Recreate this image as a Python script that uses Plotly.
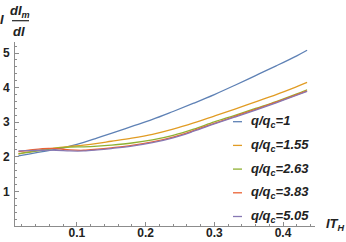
import plotly.graph_objects as go

# ---- data ----
x_vals = [0.015, 0.03, 0.05, 0.07, 0.09, 0.11, 0.13, 0.15, 0.18, 0.21, 0.24,
          0.27, 0.30, 0.33, 0.36, 0.39, 0.42, 0.435]
q_ratios = ["1", "1.55", "2.63", "3.83", "5.05"]
y_q1 = [2.03, 2.08, 2.15, 2.22, 2.31, 2.42, 2.55, 2.68, 2.88, 3.08, 3.31,
        3.55, 3.80, 4.07, 4.35, 4.63, 4.92, 5.08]
y_q155 = [2.08, 2.14, 2.21, 2.26, 2.30, 2.34, 2.39, 2.45, 2.54, 2.65, 2.80,
          2.98, 3.18, 3.38, 3.59, 3.80, 4.03, 4.15]
y_q263 = [2.09, 2.13, 2.19, 2.25, 2.28, 2.29, 2.31, 2.34, 2.40, 2.49, 2.62,
          2.80, 3.01, 3.20, 3.40, 3.60, 3.82, 3.94]
y_q383 = [2.15, 2.19, 2.24, 2.24, 2.20, 2.19, 2.22, 2.26, 2.33, 2.43, 2.57,
          2.76, 2.97, 3.17, 3.37, 3.58, 3.80, 3.91]
y_q505 = [2.17, 2.18, 2.19, 2.19, 2.17, 2.17, 2.20, 2.24, 2.31, 2.41, 2.55,
          2.74, 2.95, 3.15, 3.35, 3.56, 3.78, 3.89]
series = [y_q1, y_q155, y_q263, y_q383, y_q505]
colors = ["#5E81B5", "#E19C24", "#8FB032", "#EB6235", "#8778B3"]

x_ticks = [0.1, 0.2, 0.3, 0.4]
y_ticks = [1, 2, 3, 4, 5]

W, H = 346, 242
ml, mr, mt, mb = 15, 31, 42, 16

fig = go.Figure()
for ys, c, q in zip(series, colors, q_ratios):
    fig.add_trace(go.Scatter(x=x_vals, y=ys, mode="lines",
                             line=dict(color=c, width=1.3, shape="spline"),
                             name="q/q_c=" + q, showlegend=False))

axis_col = "#8c8c8c"
tickfont = dict(family="Liberation Sans, Arial, sans-serif", size=12,
                color="#222222", weight="bold")

fig.update_layout(
    width=W, height=H,
    margin=dict(l=ml, r=mr, t=mt, b=mb, pad=0, autoexpand=False),
    paper_bgcolor="white", plot_bgcolor="white",
    xaxis=dict(range=[0.01, 0.4465], tickvals=x_ticks,
               ticktext=[f"{v:.1f}" for v in x_ticks], automargin=False,
               showgrid=False, zeroline=False, showline=True,
               linecolor=axis_col, linewidth=1,
               ticks="inside", ticklen=4, tickcolor=axis_col, tickwidth=1,
               minor=dict(dtick=0.02, ticks="inside", ticklen=2,
                          tickcolor=axis_col, showgrid=False),
               tickfont=tickfont, ticklabelstandoff=-4),
    yaxis=dict(range=[0, 5.32], tickvals=y_ticks, automargin=False,
               showgrid=False, zeroline=False, showline=True,
               linecolor=axis_col, linewidth=1,
               ticks="inside", ticklen=4, tickcolor=axis_col, tickwidth=1,
               minor=dict(dtick=0.2, ticks="inside", ticklen=2,
                          tickcolor=axis_col, showgrid=False),
               tickfont=tickfont, ticklabelstandoff=2),
)

lab_font = dict(family="Liberation Sans, Arial, sans-serif", size=13,
                color="#222222", weight="bold")


def px(xp):
    return (xp - ml) / (W - ml - mr)


def py_(yp):
    return 1 - (yp - mt) / (H - mt - mb)


# legend (manual, short line samples)
leg_y0 = 121.7
leg_dy = 23.7
for i, (c, q) in enumerate(zip(colors, q_ratios)):
    yp = py_(leg_y0 + i * leg_dy)
    fig.add_shape(type="line", xref="paper", yref="paper",
                  x0=px(233), x1=px(242), y0=yp, y1=yp,
                  line=dict(color=c, width=1.3))
    fig.add_annotation(xref="paper", yref="paper",
                       x=px(249), y=yp,
                       xanchor="left", yanchor="middle", showarrow=False,
                       text="<i>q/q<sub>c</sub>=" + q + "</i>", font=lab_font)

# x axis label
fig.add_annotation(xref="paper", yref="paper",
                   x=px(335), y=py_(224),
                   xanchor="center", yanchor="middle", showarrow=False,
                   text="<i>IT<sub>H</sub></i>", font=lab_font)

# y axis label (fraction I dI_m/dI)
fig.add_annotation(xref="paper", yref="paper", x=px(6), y=py_(19),
                   xanchor="right", yanchor="middle", showarrow=False,
                   text="<i>I</i>", font=lab_font)
fig.add_annotation(xref="paper", yref="paper", x=px(20), y=py_(12),
                   xanchor="center", yanchor="middle", showarrow=False,
                   text="<i>dI<sub>m</sub></i>", font=lab_font)
fig.add_shape(type="line", xref="paper", yref="paper",
              x0=px(12), x1=px(29), y0=py_(20.7), y1=py_(20.7),
              line=dict(color="#222222", width=1.2))
fig.add_annotation(xref="paper", yref="paper", x=px(19), y=py_(31),
                   xanchor="center", yanchor="middle", showarrow=False,
                   text="<i>dI</i>", font=lab_font)

fig.write_html("out.html",
               config={"displayModeBar": False},
               post_script="document.body.style.margin='0';"
                           "document.body.style.padding='0';")
